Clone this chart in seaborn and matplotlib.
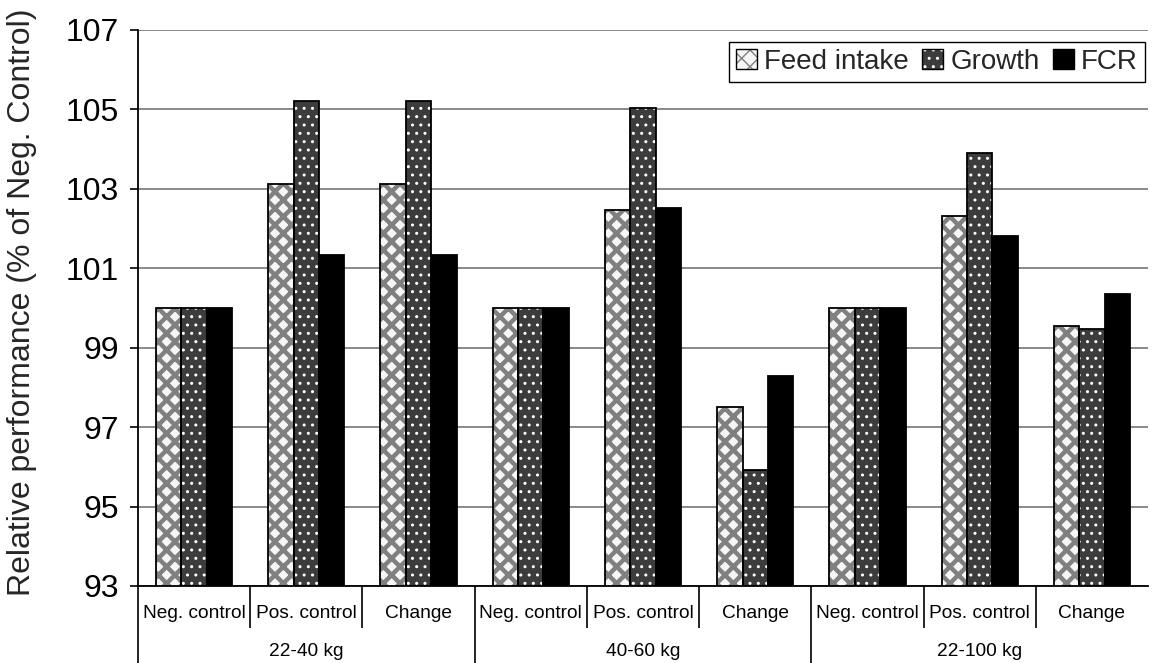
import matplotlib
matplotlib.use("Agg")
import matplotlib.pyplot as plt
from matplotlib.patches import Patch, Rectangle
from matplotlib.legend_handler import HandlerTuple
import seaborn as sns
import pandas as pd

# --- data -------------------------------------------------------------
periods = ["22-40 kg", "40-60 kg", "22-100 kg"]
treatments = ["Neg. control", "Pos. control", "Change"]
measures = ["Feed intake", "Growth", "FCR"]

feed_intake = [100.0, 103.13, 103.13, 100.0, 102.48, 97.51, 100.0, 102.32, 99.54]
growth = [100.0, 105.22, 105.22, 100.0, 105.03, 95.93, 100.0, 103.90, 99.48]
fcr = [100.0, 101.34, 101.34, 100.0, 102.52, 98.29, 100.0, 101.81, 100.36]

yticks = [93, 95, 97, 99, 101, 103, 105, 107]

# --- long-format table for seaborn -----------------------------------
cats = [f"{p}|{t}" for p in periods for t in treatments]
rows = []
for name, vals in zip(measures, [feed_intake, growth, fcr]):
    for c, v in zip(cats, vals):
        rows.append({"cat": c, "measure": name, "value": v})
df = pd.DataFrame(rows)

# --- styling -------------------------------------------------------------
sns.set_theme(style="white")
plt.rcParams["font.family"] = ["Liberation Sans", "DejaVu Sans"]

face = {"Feed intake": "#f6f6f6", "Growth": "#3c3c3c", "FCR": "#000000"}
hatch_col = {"Feed intake": "#808080", "Growth": "#ffffff", "FCR": "#000000"}
hatch = {"Feed intake": "xx", "Growth": "..", "FCR": ""}
hatch_lw = {"Feed intake": 3.2, "Growth": 1.0, "FCR": 1.0}

W, H = 1156, 663
fig = plt.figure(figsize=(W / 100, H / 100), dpi=100)
L, R, T, B = 138, 1148, 30, 586
ax = fig.add_axes([L / W, 1 - B / H, (R - L) / W, (B - T) / H])

sns.barplot(data=df, x="cat", y="value", hue="measure", order=cats,
            hue_order=measures, palette=face, width=0.68, gap=0,
            saturation=1, legend=False, ax=ax)

# hatch layer plus a separate black outline for every bar
for m, cont in zip(measures, ax.containers):
    for bar in cont:
        bar.set_facecolor(face[m])
        bar.set_edgecolor(hatch_col[m])
        bar.set_hatch(hatch[m])
        bar.set_linewidth(0)
        if hasattr(bar, "set_hatch_linewidth"):
            bar.set_hatch_linewidth(hatch_lw[m])
        ax.add_patch(Rectangle((bar.get_x(), bar.get_y()), bar.get_width(),
                               bar.get_height(), fill=False,
                               edgecolor="black", linewidth=1.3, zorder=3))

ax.set_xlim(-0.5, len(cats) - 0.5)
ax.set_ylim(93, 107)
ax.set_yticks(yticks)
ax.set_yticklabels([str(t) for t in yticks], fontsize=23)
ax.set_xticks([])
ax.set_xlabel("")
ax.set_ylabel("")
ax.tick_params(axis="y", direction="out", length=6, width=1.2, pad=8,
               left=True, colors="black")
ax.set_axisbelow(True)
ax.yaxis.grid(True, color="#808080", linewidth=1.3)
for s in ["top", "right"]:
    ax.spines[s].set_visible(False)
for s in ["left", "bottom"]:
    ax.spines[s].set_color("black")
    ax.spines[s].set_linewidth(1.3)

fig.text(22 / W, 1 - 302 / H, "Relative performance (% of Neg. Control)",
         rotation=90, ha="center", va="center", fontsize=23)

# --- two-level category axis --------------------------------------------
tr = ax.get_xaxis_transform()
y_cat = (B - 613) / (B - T)
y_grp = (B - 652) / (B - T)
y_short = (B - 628) / (B - T)
y_long = (B - H) / (B - T)

for i, c in enumerate(cats):
    ax.text(i, y_cat, c.split("|")[1], transform=tr, ha="center",
            va="center", fontsize=13.8, color="black")
for g, p in enumerate(periods):
    ax.text(g * 3 + 1, y_grp, p, transform=tr, ha="center", va="center",
            fontsize=13.8, color="black")
for k in range(len(cats)):
    x = k - 0.5
    y_end = y_long if k % 3 == 0 else y_short
    ax.plot([x, x], [0, y_end], transform=tr, color="black", lw=1.2,
            clip_on=False, solid_capstyle="butt")

# --- legend ------------------------------------------------------------------
handles = []
for m in measures:
    hp = Patch(facecolor=face[m], edgecolor=hatch_col[m], hatch=hatch[m],
               linewidth=0)
    op = Patch(fill=False, edgecolor="black", linewidth=1.0)
    handles.append((hp, op))
leg = ax.legend(handles, measures, loc="upper right",
                bbox_to_anchor=(1 - 3 / (R - L), 1 - 12 / (B - T)),
                borderaxespad=0, ncol=3, fontsize=20, frameon=True,
                fancybox=False, edgecolor="black", framealpha=1,
                handlelength=0.75, handleheight=0.75, handletextpad=0.25,
                columnspacing=0.5, borderpad=0.25,
                handler_map={tuple: HandlerTuple(ndivide=1, pad=0)})
leg.get_frame().set_linewidth(1.0)

fig.savefig("out.png", dpi=100)
